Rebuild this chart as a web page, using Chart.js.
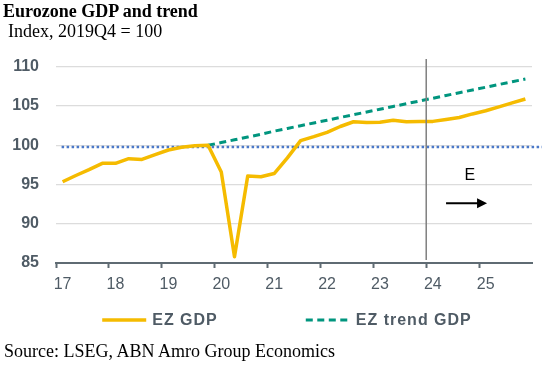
<!DOCTYPE html>
<html>
<head>
<meta charset="utf-8">
<script src="https://cdn.jsdelivr.net/npm/chart.js@4"></script>
<style>
  body { margin: 0; background: #fff; }
  #wrap { position: relative; width: 558px; height: 376px; }
  #chart-canvas { position: absolute; left: 0; top: 0; }
  .txt { position: absolute; font-family: 'Liberation Serif', 'Times New Roman', serif; color: #000; white-space: nowrap; }
  #title { left: 3px; top: 1px; font-size: 18px; font-weight: bold; }
  #subtitle { left: 8px; top: 21px; font-size: 18px; }
  #source { left: 4px; top: 341px; font-size: 18px; }
</style>
</head>
<body>
<div id="wrap">
  <canvas id="chart-canvas" width="558" height="376"></canvas>
  <div class="txt" id="title">Eurozone GDP and trend</div>
  <div class="txt" id="subtitle">Index, 2019Q4 = 100</div>
  <div class="txt" id="source">Source: LSEG, ABN Amro Group Economics</div>
</div>
<script>
// years on the axis, each one split in 4 quarters
const years = ['17', '18', '19', '20', '21', '22', '23', '24', '25'];
const quarters = years.flatMap(y => ['Q1', 'Q2', 'Q3', 'Q4'].map(q => y + q));

// EZ GDP, 2017Q1 .. 2025Q4
const ez_gdp = [95.35, 96.15, 96.9, 97.7, 97.7, 98.3, 98.2, 98.8,
    99.4, 99.75, 99.95, 100.0, 96.6, 85.8, 96.1, 96.0,
    96.4, 98.4, 100.6, 101.1, 101.65, 102.4, 103.0, 102.9,
    102.95, 103.2, 103.0, 103.05, 103.05, 103.3, 103.55, 104.0,
    104.4, 104.9, 105.4, 105.9];

// EZ trend GDP, starts at 2019Q4
const ez_trend = [null, null, null, null, null, null, null, null,
    null, null, null, 100.0, 100.35, 100.7, 101.05, 101.4,
    101.8, 102.15, 102.5, 102.85, 103.2, 103.55, 103.9, 104.25,
    104.6, 104.95, 105.3, 105.65, 106.0, 106.35, 106.7, 107.05,
    107.4, 107.75, 108.1, 108.45];

const base_level = 99.8;          // dotted blue line
const forecast_from = 28;         // 2024Q1 index, vertical separator
const y_ticks = [85, 90, 95, 100, 105, 110];

const axis_col = '#4f5b65';

// dotted line, separator, "E" and arrow
const extras = {
    id: 'extras',
    beforeDatasetsDraw(chart) {
        const { ctx, chartArea, scales } = chart;
        const yb = scales.y.getPixelForValue(base_level);
        ctx.save();
        ctx.strokeStyle = '#4a78c8';
        ctx.lineWidth = 2.5;
        ctx.setLineDash([2.5, 2.5]);
        ctx.beginPath();
        ctx.moveTo(scales.x.getPixelForValue(0) - 1, yb);
        ctx.lineTo(chartArea.right + 10, yb);
        ctx.stroke();
        ctx.restore();
    },
    afterDatasetsDraw(chart) {
        const { ctx, chartArea, scales } = chart;
        const xs = (scales.x.getPixelForValue(forecast_from - 1) + scales.x.getPixelForValue(forecast_from)) / 2;
        ctx.save();
        ctx.strokeStyle = '#7f7f7f';
        ctx.lineWidth = 1.5;
        ctx.beginPath();
        ctx.moveTo(xs, chartArea.top);
        ctx.lineTo(xs, chartArea.bottom - 3);
        ctx.stroke();

        // E label and arrow
        ctx.fillStyle = '#000';
        ctx.font = '16px "Liberation Sans", Arial, sans-serif';
        ctx.textAlign = 'center';
        ctx.textBaseline = 'middle';
        ctx.fillText('E', scales.x.getPixelForValue(30.8), scales.y.getPixelForValue(96.15));
        const ya = scales.y.getPixelForValue(92.6);
        const x0 = scales.x.getPixelForValue(29);
        const x1 = scales.x.getPixelForValue(32.1);
        ctx.strokeStyle = '#000';
        ctx.lineWidth = 2;
        ctx.beginPath();
        ctx.moveTo(x0, ya);
        ctx.lineTo(x1 - 8, ya);
        ctx.stroke();
        ctx.beginPath();
        ctx.moveTo(x1, ya);
        ctx.lineTo(x1 - 10, ya - 5);
        ctx.lineTo(x1 - 10, ya + 5);
        ctx.closePath();
        ctx.fill();
        ctx.restore();
    },
    afterDraw(chart) {
        // legend row under the axis
        const { ctx, chartArea } = chart;
        const sets = chart.data.datasets;
        ctx.save();
        ctx.font = 'bold 16px "Liberation Sans", Arial, sans-serif';
        ctx.letterSpacing = '1px';
        const sample = 44, gap = 6, between = 88;
        let total = 0;
        sets.forEach((d, i) => {
            total += sample + gap + ctx.measureText(d.label).width + (i ? between : 0);
        });
        let x = (chartArea.left + chartArea.right) / 2 - 7 - total / 2;
        const y = 320;
        sets.forEach((d, i) => {
            if (i) x += between;
            ctx.strokeStyle = d.borderColor;
            ctx.lineWidth = d.borderWidth;
            ctx.setLineDash(d.borderDash || []);
            ctx.beginPath();
            ctx.moveTo(x, y);
            ctx.lineTo(x + sample, y);
            ctx.stroke();
            x += sample + gap;
            ctx.fillStyle = axis_col;
            ctx.textAlign = 'left';
            ctx.textBaseline = 'middle';
            ctx.fillText(d.label, x, y + 1);
            x += ctx.measureText(d.label).width;
        });
        ctx.restore();
    }
};

const ctx = document.getElementById('chart-canvas');
const chart = new Chart(ctx, {
    type: 'line',
    data: {
        labels: quarters,
        datasets: [
            {
                label: 'EZ GDP',
                data: ez_gdp,
                borderColor: '#f5bb00',
                borderWidth: 3.5,
                pointRadius: 0,
                tension: 0,
                borderJoinStyle: 'round',
                fill: false,
            },
            {
                label: 'EZ trend GDP',
                data: ez_trend,
                borderColor: '#00957e',
                borderWidth: 3,
                borderDash: [7, 4.5],
                pointRadius: 0,
                tension: 0,
                fill: false,
            },
        ],
    },
    options: {
        responsive: false,
        animation: false,
        layout: { padding: { left: 10, right: 26, top: 59, bottom: 83 } },
        scales: {
            x: {
                type: 'category',
                offset: true,
                afterFit: (s) => { s.height = 30; },
                grid: {
                    offset: true,
                    drawOnChartArea: false,
                    drawTicks: true,
                    tickLength: 5,
                    tickWidth: 2,
                    tickColor: (c) => (c.index % 4 === 0 ? '#5f6b73' : 'rgba(0,0,0,0)'),
                },
                border: { display: true, color: '#5f6b73', width: 2 },
                ticks: {
                    autoSkip: false,
                    maxRotation: 0,
                    padding: 7,
                    color: axis_col,
                    font: { family: '"Liberation Sans", Arial, sans-serif', size: 16 },
                    callback: (v, i) => (i % 4 === 0 ? years[i / 4] : ''),
                },
            },
            y: {
                min: 85,
                max: 111,
                afterFit: (s) => { s.width = 46; },
                afterBuildTicks: (s) => { s.ticks = y_ticks.map(v => ({ value: v })); },
                grid: {
                    drawTicks: false,
                    color: (c) => (c.tick && c.tick.value === 85 ? 'rgba(0,0,0,0)' : '#dcdcdc'),
                    lineWidth: 1.2,
                },
                border: { display: false },
                ticks: {
                    padding: 17,
                    color: axis_col,
                    font: { family: '"Liberation Sans", Arial, sans-serif', size: 16, weight: 'bold' },
                },
            },
        },
        plugins: {
            legend: { display: false },
            tooltip: { enabled: false },
        },
    },
    plugins: [extras],
});
</script>
</body>
</html>
